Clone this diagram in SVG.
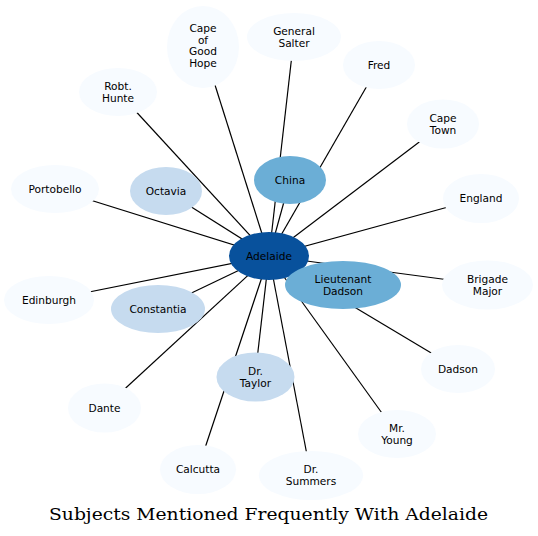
<svg xmlns="http://www.w3.org/2000/svg" width="538" height="536" viewBox="0 0 538 536">
<style>
.e{stroke:#000;stroke-width:1.2;fill:none}
.l0{fill:#f7fbff}
.l1{fill:#c6dbef}
.l2{fill:#6baed6}
.l3{fill:#08519c}
text{font-family:"DejaVu Sans",sans-serif;font-size:10.6px;text-anchor:middle;fill:#000}
.t{font-family:"DejaVu Serif",serif;font-size:16.5px}
</style>
<rect width="538" height="536" fill="#fff"/>
<g id="edges">
<line class="e" x1="269" y1="256" x2="290" y2="180"/>
<line class="e" x1="269" y1="256" x2="343" y2="285"/>
<line class="e" x1="269" y1="256" x2="166" y2="191"/>
<line class="e" x1="269" y1="256" x2="158" y2="309"/>
<line class="e" x1="269" y1="256" x2="255" y2="377"/>
<line class="e" x1="269" y1="256" x2="55" y2="189"/>
<line class="e" x1="269" y1="256" x2="49" y2="300"/>
<line class="e" x1="269" y1="256" x2="118" y2="92"/>
<line class="e" x1="269" y1="256" x2="203" y2="47"/>
<line class="e" x1="269" y1="256" x2="294" y2="37"/>
<line class="e" x1="269" y1="256" x2="379" y2="65"/>
<line class="e" x1="269" y1="256" x2="443" y2="124"/>
<line class="e" x1="269" y1="256" x2="481" y2="198"/>
<line class="e" x1="269" y1="256" x2="487" y2="285"/>
<line class="e" x1="269" y1="256" x2="458" y2="369"/>
<line class="e" x1="269" y1="256" x2="397" y2="434"/>
<line class="e" x1="269" y1="256" x2="311" y2="476"/>
<line class="e" x1="269" y1="256" x2="198" y2="469"/>
<line class="e" x1="269" y1="256" x2="104" y2="408"/>
</g>
<g id="adelaide"><ellipse class="l3" cx="269" cy="256" rx="40" ry="24"/><text x="269" y="259.7">Adelaide</text></g>
<g id="china"><ellipse class="l2" cx="290" cy="180" rx="36" ry="24"/><text x="290" y="183.7">China</text></g>
<g id="lieutenant-dadson"><ellipse class="l2" cx="343" cy="285" rx="58" ry="24"/><text x="343" y="282.9">Lieutenant</text><text x="343" y="294.5">Dadson</text></g>
<g id="octavia"><ellipse class="l1" cx="166" cy="191" rx="36" ry="24"/><text x="166" y="194.7">Octavia</text></g>
<g id="constantia"><ellipse class="l1" cx="158" cy="309" rx="47" ry="24"/><text x="158" y="312.7">Constantia</text></g>
<g id="dr-taylor"><ellipse class="l1" cx="255.5" cy="377" rx="39" ry="24.5"/><text x="255.5" y="374.9">Dr.</text><text x="255.5" y="386.5">Taylor</text></g>
<g id="portobello"><ellipse class="l0" cx="55" cy="189" rx="44" ry="24"/><text x="55" y="192.7">Portobello</text></g>
<g id="edinburgh"><ellipse class="l0" cx="49" cy="300" rx="45" ry="24"/><text x="49" y="303.7">Edinburgh</text></g>
<g id="robt-hunte"><ellipse class="l0" cx="118" cy="92" rx="39" ry="24"/><text x="118" y="89.9">Robt.</text><text x="118" y="101.5">Hunte</text></g>
<g id="cape-of-good-hope"><ellipse class="l0" cx="203" cy="47" rx="36" ry="41"/><text x="203" y="32">Cape</text><text x="203" y="43.6">of</text><text x="203" y="55.2">Good</text><text x="203" y="66.8">Hope</text></g>
<g id="general-salter"><ellipse class="l0" cx="294" cy="37" rx="47" ry="24"/><text x="294" y="34.9">General</text><text x="294" y="46.5">Salter</text></g>
<g id="fred"><ellipse class="l0" cx="379" cy="65" rx="36" ry="24"/><text x="379" y="68.7">Fred</text></g>
<g id="cape-town"><ellipse class="l0" cx="443" cy="124" rx="36" ry="24.5"/><text x="443" y="121.9">Cape</text><text x="443" y="133.5">Town</text></g>
<g id="england"><ellipse class="l0" cx="481" cy="198.5" rx="38" ry="24.5"/><text x="481" y="202.2">England</text></g>
<g id="brigade-major"><ellipse class="l0" cx="487.5" cy="285" rx="45.5" ry="24.5"/><text x="487.5" y="282.9">Brigade</text><text x="487.5" y="294.5">Major</text></g>
<g id="dadson"><ellipse class="l0" cx="458" cy="369" rx="37" ry="24"/><text x="458" y="372.7">Dadson</text></g>
<g id="mr-young"><ellipse class="l0" cx="397" cy="434" rx="39" ry="24"/><text x="397" y="431.9">Mr.</text><text x="397" y="443.5">Young</text></g>
<g id="dr-summers"><ellipse class="l0" cx="311" cy="475.5" rx="52" ry="24.5"/><text x="311" y="473.4">Dr.</text><text x="311" y="485">Summers</text></g>
<g id="calcutta"><ellipse class="l0" cx="198" cy="469.5" rx="38" ry="24.5"/><text x="198" y="473.2">Calcutta</text></g>
<g id="dante"><ellipse class="l0" cx="104.5" cy="408" rx="36.5" ry="24.5"/><text x="104.5" y="411.7">Dante</text></g>
<text class="t" x="268.5" y="520" textLength="439" lengthAdjust="spacingAndGlyphs">Subjects Mentioned Frequently With Adelaide</text>
</svg>
